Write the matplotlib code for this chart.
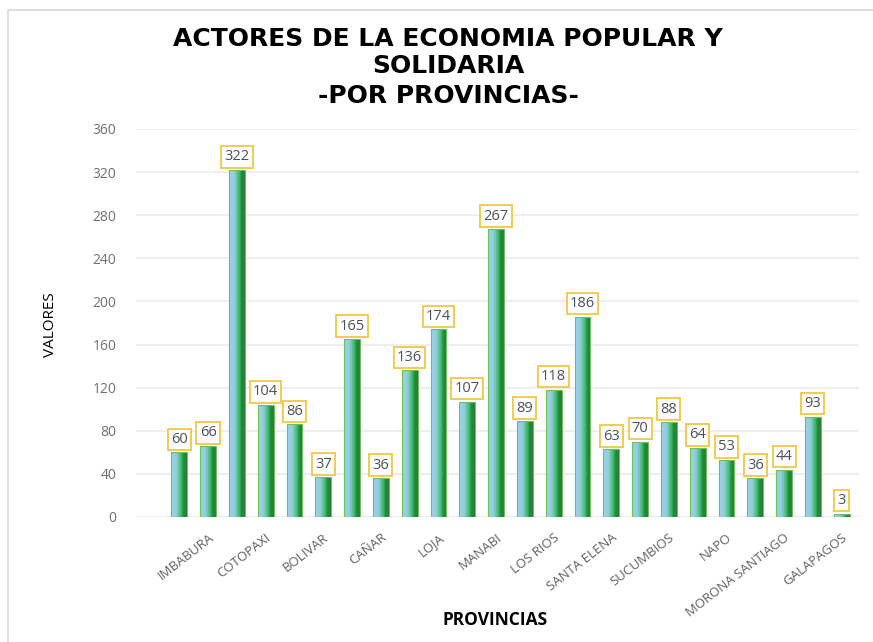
import matplotlib.pyplot as plt
from matplotlib.colors import LinearSegmentedColormap
from matplotlib.lines import Line2D
import numpy as np

# Datos: actores de la economia popular y solidaria por provincia
provincias = ['CARCHI', 'IMBABURA', 'PICHINCHA', 'COTOPAXI', 'TUNGURAHUA', 'BOLIVAR',
              'CHIMBORAZO', 'CAÑAR', 'AZUAY', 'LOJA', 'EL ORO', 'MANABI',
              'ESMERALDAS', 'LOS RIOS', 'GUAYAS', 'SANTA ELENA', 'SANTO DOMINGO',
              'SUCUMBIOS', 'ORELLANA', 'NAPO', 'PASTAZA', 'MORONA SANTIAGO',
              'ZAMORA CHINCHIPE', 'GALAPAGOS']
valores = [60, 66, 322, 104, 86, 37, 165, 36, 136, 174, 107, 267,
           89, 118, 186, 63, 70, 88, 64, 53, 36, 44, 93, 3]
yticks = [0, 40, 80, 120, 160, 200, 240, 280, 320, 360]

plt.rcParams['font.family'] = ['Open Sans', 'DejaVu Sans']

fig = plt.figure(figsize=(8.73, 6.42), dpi=100)
ax = fig.add_axes([136 / 873, 1 - 517 / 642, (859 - 136) / 873, (517 - 129) / 642])

# borde del grafico (izquierda y arriba)
bx, by = 8 / 873, 1 - 10 / 642
fig.add_artist(Line2D([bx, bx, 1.0], [0.0, by, by], transform=fig.transFigure,
                      color='#d9d9d9', linewidth=1.2))

x = np.arange(len(valores))
ancho = 0.55
barras = ax.bar(x, valores, width=ancho, color='none', edgecolor='#6fbf5a',
                linewidth=0.8, zorder=3)

# degradado tipo cilindro
cmap = LinearSegmentedColormap.from_list(
    'cil', [(0.0, '#9fd0ef'), (0.35, '#8fcfd8'), (0.7, '#2fb457'), (0.76, '#1f8f3a'), (1.0, '#2c7a35')])
grad = np.linspace(0, 1, 64).reshape(1, -1)
for b in barras:
    x0, w, h = b.get_x(), b.get_width(), b.get_height()
    im = ax.imshow(grad, cmap=cmap, aspect='auto', extent=(x0, x0 + w, 0, h),
                   zorder=2, interpolation='bicubic')
    im.set_clip_path(b)

# etiquetas de valores
for xi, v in zip(x, valores):
    ax.annotate(str(v), (xi, v), xytext=(0, 4), textcoords='offset points',
                ha='center', va='bottom', fontsize=10.5, color='#505050',
                bbox=dict(boxstyle='square,pad=0.22', fc='white', ec='#f2c744', lw=1.3),
                zorder=4)

ax.set_xlim(-1.5, 23.6)
ax.set_ylim(0, 360)
ax.set_yticks(yticks)
ax.set_yticklabels([str(t) for t in yticks], fontsize=10, color='#707070')
ax.set_xticks(x[1::2])
ax.set_xticklabels(provincias[1::2], rotation=38, ha='right', rotation_mode='anchor',
                   fontsize=9.5, color='#606060')
ax.tick_params(length=0, pad=10)
ax.tick_params(axis='y', pad=14)
ax.grid(axis='y', color='#eeeeee', linewidth=1.5, zorder=0)
for s in ax.spines.values():
    s.set_visible(False)

titulo = ['ACTORES DE LA ECONOMIA POPULAR Y', 'SOLIDARIA', '-POR PROVINCIAS-']
for linea, yp in zip(titulo, [39, 66, 96]):
    fig.text(448 / 873, 1 - yp / 642, linea, ha='center', va='center',
             fontsize=18, fontweight='bold', color='black', family='DejaVu Sans')

fig.text(50 / 873, 1 - 325 / 642, 'VALORES', rotation=90, ha='center', va='center',
         fontsize=11, color='black')
fig.text(495 / 873, 1 - 620 / 642, 'PROVINCIAS', ha='center', va='center',
         fontsize=12.5, fontweight='bold', color='black')

fig.savefig('out.png', dpi=100)
